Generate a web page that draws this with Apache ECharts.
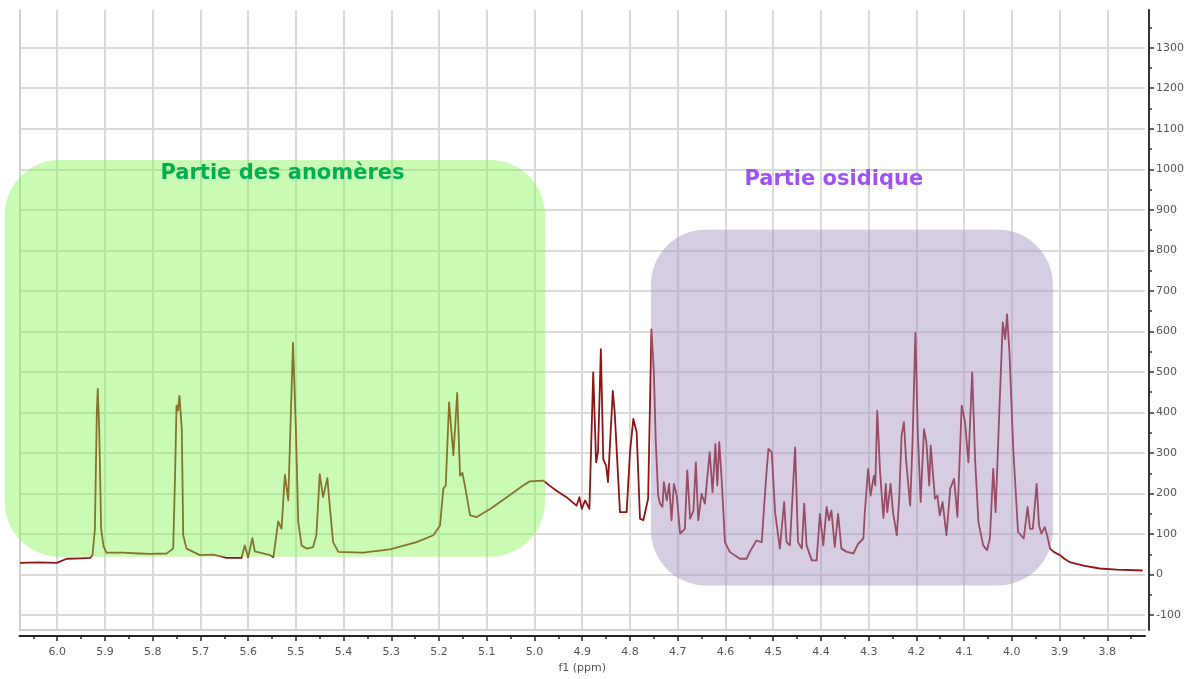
<!DOCTYPE html>
<html><head><meta charset="utf-8">
<script src="https://cdn.jsdelivr.net/npm/echarts@6/dist/echarts.min.js"></script>
<style>html,body{margin:0;padding:0;background:#fff}#c{width:1198px;height:679px}</style>
</head><body><div id="c"></div>
<script>
// chemical shift (ppm) and intensity of the 1H NMR trace
const ppm = [6.078,6.040,6.001,5.980,5.950,5.931,5.926,5.921,5.917,5.915,5.912,5.908,5.903,5.897,5.862,5.830,5.806,5.771,5.757,5.753,5.750,5.747,5.744,5.739,5.736,5.729,5.701,5.673,5.645,5.614,5.607,5.600,5.591,5.586,5.554,5.547,5.537,5.530,5.523,5.516,5.506,5.500,5.495,5.488,5.477,5.464,5.457,5.450,5.443,5.434,5.429,5.422,5.411,5.359,5.303,5.247,5.212,5.198,5.191,5.186,5.179,5.170,5.162,5.156,5.151,5.146,5.135,5.121,5.093,5.058,5.024,5.010,4.982,4.971,4.954,4.933,4.912,4.906,4.901,4.894,4.885,4.877,4.871,4.867,4.861,4.856,4.850,4.846,4.836,4.832,4.821,4.807,4.800,4.793,4.786,4.779,4.772,4.762,4.755,4.750,4.746,4.741,4.737,4.732,4.729,4.723,4.718,4.713,4.708,4.702,4.695,4.685,4.680,4.674,4.667,4.662,4.657,4.650,4.643,4.636,4.633,4.627,4.621,4.617,4.613,4.608,4.601,4.591,4.570,4.556,4.549,4.535,4.524,4.515,4.510,4.503,4.496,4.486,4.477,4.472,4.465,4.454,4.448,4.440,4.435,4.430,4.419,4.409,4.402,4.395,4.388,4.383,4.378,4.371,4.364,4.357,4.346,4.332,4.322,4.311,4.308,4.301,4.296,4.289,4.286,4.282,4.276,4.269,4.264,4.261,4.254,4.249,4.241,4.236,4.231,4.226,4.222,4.213,4.208,4.202,4.197,4.191,4.184,4.179,4.173,4.170,4.161,4.156,4.151,4.145,4.137,4.129,4.121,4.114,4.105,4.098,4.091,4.083,4.077,4.070,4.060,4.052,4.046,4.039,4.034,4.026,4.019,4.014,4.010,4.005,3.997,3.987,3.975,3.967,3.962,3.956,3.948,3.943,3.938,3.931,3.926,3.920,3.912,3.906,3.899,3.890,3.879,3.850,3.816,3.780,3.726];
const intensity = [29,30,29,39,40,41,48,113,401,458,359,113,70,54,54,52,51,52,64,250,417,405,441,359,97,64,48,49,41,41,72,43,90,57,48,43,131,113,246,183,572,359,130,72,64,68,97,248,191,238,170,80,56,54,62,80,97,121,212,220,425,294,448,244,251,220,146,142,162,191,220,230,232,222,207,191,170,191,162,183,162,499,277,302,556,285,269,228,453,400,154,154,302,384,351,138,134,187,605,500,330,195,175,167,228,183,224,134,224,195,101,113,257,138,158,277,134,199,175,265,302,203,322,220,327,236,80,56,39,39,56,84,80,236,310,302,154,64,179,80,72,314,80,64,175,72,35,35,150,72,167,134,158,68,150,64,56,52,76,89,154,261,195,244,220,404,253,140,224,154,224,154,97,187,343,376,290,170,327,597,351,179,359,327,220,318,187,195,146,179,97,212,236,142,417,376,277,499,285,130,72,60,89,261,154,409,622,581,642,548,310,105,89,167,113,113,224,121,101,117,97,64,56,52,48,39,31,22,15,12,10];

// axis ticks
const xTicks = [6.0,5.9,5.8,5.7,5.6,5.5,5.4,5.3,5.2,5.1,5.0,4.9,4.8,4.7,4.6,4.5,4.4,4.3,4.2,4.1,4.0,3.9,3.8];
const xMinorTicks = [6.05,5.95,5.85,5.75,5.65,5.55,5.45,5.35,5.25,5.15,5.05,4.95,4.85,4.75,4.65,4.55,4.45,4.35,4.25,4.15,4.05,3.95,3.85,3.75];
const yTicks = [-100,0,100,200,300,400,500,600,700,800,900,1000,1100,1200,1300];
const yMinorTicks = [-50,50,150,250,350,450,550,650,750,850,950,1050,1150,1250,1350];

// annotation regions (ppm from, ppm to, intensity top, intensity bottom)
const regionNames = ['Partie des anomères', 'Partie osidique'];
const regionBoxes = [[6.110, 4.978, 1023, 44], [4.756, 3.914, 851, -27]];
const regionLabelAt = [[5.528, 990], [4.373, 975]];

const X_MIN = 3.721, X_MAX = 6.079, Y_MIN = -137, Y_MAX = 1393;
const lbl = {color:'#555', fontSize:11, fontFamily:'DejaVu Sans'};

const chart = echarts.init(document.getElementById('c'));
const data = ppm.map((p, i) => [p, intensity[i]]);

chart.setOption({
  animation:false,
  backgroundColor:'#fff',
  grid:{left:19.5, right:53, top:10, bottom:47},
  xAxis:[
    {type:'value', inverse:true, min:X_MIN, max:X_MAX, position:'bottom', offset:6,
     axisLine:{show:true, onZero:false, lineStyle:{color:'#222', width:2}},
     axisTick:{show:true, length:5, customValues:xTicks, lineStyle:{color:'#222', width:1.5}},
     axisLabel:Object.assign({customValues:xTicks, margin:11, formatter:v=>v.toFixed(1)}, lbl),
     splitLine:{show:true, lineStyle:{color:'#dadada', width:2}},
     name:'f1 (ppm)', nameLocation:'middle', nameGap:26, nameTextStyle:lbl},
    {type:'value', inverse:true, min:X_MIN, max:X_MAX, position:'bottom', offset:6,
     axisLine:{show:false, onZero:false},
     axisTick:{show:true, length:3, customValues:xMinorTicks, lineStyle:{color:'#222', width:1.5}},
     axisLabel:{show:false}, splitLine:{show:false}},
    {type:'value', inverse:true, min:X_MIN, max:X_MAX, position:'bottom', offset:0,
     axisLine:{show:true, onZero:false, lineStyle:{color:'#cfcfcf', width:2}},
     axisTick:{show:false}, axisLabel:{show:false}, splitLine:{show:false}}
  ],
  yAxis:[
    {type:'value', min:Y_MIN, max:Y_MAX, position:'right', offset:4,
     axisLine:{show:true, onZero:false, lineStyle:{color:'#333', width:2}},
     axisTick:{show:true, length:5, customValues:yTicks, lineStyle:{color:'#333', width:1.5}},
     axisLabel:Object.assign({customValues:yTicks, margin:7, formatter:v=>String(v)}, lbl),
     splitLine:{show:true, lineStyle:{color:'#dadada', width:2}}},
    {type:'value', min:Y_MIN, max:Y_MAX, position:'right', offset:4,
     axisLine:{show:false, onZero:false},
     axisTick:{show:true, length:3, customValues:yMinorTicks, lineStyle:{color:'#333', width:1.5}},
     axisLabel:{show:false}, splitLine:{show:false}},
    {type:'value', min:Y_MIN, max:Y_MAX, position:'left', offset:0,
     axisLine:{show:true, onZero:false, lineStyle:{color:'#cfcfcf', width:2}},
     axisTick:{show:false}, axisLabel:{show:false}, splitLine:{show:false}}
  ],
  series:[{
    type:'line', xAxisIndex:0, yAxisIndex:0, data:data, showSymbol:false, symbol:'none',
    lineStyle:{color:'#8c1616', width:1.8, join:'round'}, z:2
  }]
});

const fills = ['rgba(128,245,76,0.42)', 'rgba(165,145,192,0.45)'];
const textColors = ['#00b050', '#a052f0'];
const graphics = [];
regionBoxes.forEach((b, i) => {
  const p1 = chart.convertToPixel({xAxisIndex:0, yAxisIndex:0}, [b[0], b[2]]);
  const p2 = chart.convertToPixel({xAxisIndex:0, yAxisIndex:0}, [b[1], b[3]]);
  graphics.push({type:'rect', z:50, shape:{x:Math.min(p1[0],p2[0]), y:Math.min(p1[1],p2[1]), width:Math.abs(p2[0]-p1[0]), height:Math.abs(p2[1]-p1[1]), r:55}, style:{fill:fills[i]}});
});
regionLabelAt.forEach((t, i) => {
  const p = chart.convertToPixel({xAxisIndex:0, yAxisIndex:0}, t);
  graphics.push({type:'text', z:60, x:p[0], y:p[1], style:{text:regionNames[i], fill:textColors[i], font:'bold 21px "DejaVu Sans"', align:'center', verticalAlign:'middle'}});
});
chart.setOption({graphic:graphics});
</script>
</body></html>
